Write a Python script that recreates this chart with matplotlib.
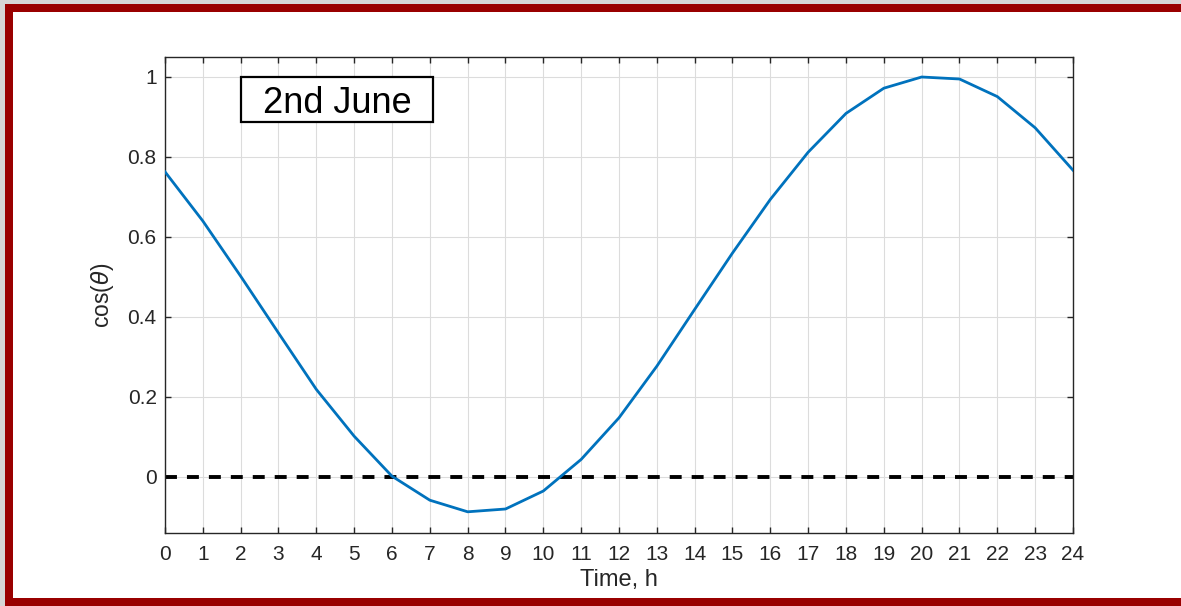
import matplotlib.pyplot as plt
from matplotlib.patches import Rectangle
import numpy as np

plt.rcParams['font.family'] = ['Liberation Sans', 'DejaVu Sans']
plt.rcParams['mathtext.fontset'] = 'dejavusans'
plt.rcParams['lines.scale_dashes'] = False

# hourly values of cos(theta) for the day
hours = list(range(0, 25))
cos_theta = [0.763, 0.640, 0.502, 0.360, 0.219, 0.102, 0.002, -0.058, -0.087,
             -0.080, -0.035, 0.044, 0.148, 0.277, 0.419, 0.560, 0.694, 0.812,
             0.909, 0.972, 1.000, 0.995, 0.951, 0.873, 0.767]
y_ticks = [0, 0.2, 0.4, 0.6, 0.8, 1]
y_tick_labels = ['0', '0.2', '0.4', '0.6', '0.8', '1']
day_label = '2nd June'

W, H = 1181, 606
fig = plt.figure(figsize=(W / 100, H / 100), dpi=100)
fig.patch.set_facecolor('white')

# frame around the figure: grey backdrop strips, then the dark red border
red = '#990000'
fig.patches.append(Rectangle((0, 1 - 4 / H), 1, 4 / H, transform=fig.transFigure,
                             facecolor='#d6d6d6', edgecolor='none', zorder=0))
fig.patches.append(Rectangle((0, 0), 5 / W, 1, transform=fig.transFigure,
                             facecolor='#d6d6d6', edgecolor='none', zorder=0))
fig.patches.append(Rectangle((5 / W, 1 - 12 / H), 1, 8 / H, transform=fig.transFigure,
                             facecolor=red, edgecolor='none', zorder=1))
fig.patches.append(Rectangle((5 / W, 0), 8 / W, 1 - 4 / H, transform=fig.transFigure,
                             facecolor=red, edgecolor='none', zorder=1))
fig.patches.append(Rectangle((5 / W, 0), 1, 8 / H, transform=fig.transFigure,
                             facecolor=red, edgecolor='none', zorder=1))

ax = fig.add_axes([165 / W, 1 - 533 / H, 908 / W, 476 / H])

ax.plot(hours, cos_theta, color='#0072BD', lw=2.0, zorder=3)
ax.axhline(0, color='black', lw=2.8, dashes=(8.6, 7.2), zorder=2)

ax.set_xlim(0, 24)
ax.set_ylim(-0.14, 1.05)
ax.set_xticks(hours)
ax.set_yticks(y_ticks)
ax.set_yticklabels(y_tick_labels)

axis_col = '#262626'
ax.grid(True, color='#dcdcdc', lw=0.8)
ax.set_axisbelow(True)
for s in ax.spines.values():
    s.set_color(axis_col)
    s.set_linewidth(1.0)
ax.tick_params(direction='in', length=4, width=1, color=axis_col,
               top=True, right=True, labelsize=15, labelcolor=axis_col)
ax.tick_params(axis='x', pad=9)
ax.tick_params(axis='y', pad=6)

ax.set_xlabel('Time, h', fontsize=17, color=axis_col, labelpad=3)
ax.set_ylabel(r'cos($\theta$)', fontsize=16.5, color=axis_col, labelpad=8)

# date label in a boxed annotation
ax.add_patch(Rectangle((0.0837, 0.8628), 0.2115, 0.0946, transform=ax.transAxes,
                       facecolor='white', edgecolor='black', lw=1.6, zorder=4))
ax.text(0.1895, 0.902, day_label, transform=ax.transAxes, ha='center',
        va='center', fontsize=26, color='black', zorder=5)

fig.savefig('out.png', dpi=100)
